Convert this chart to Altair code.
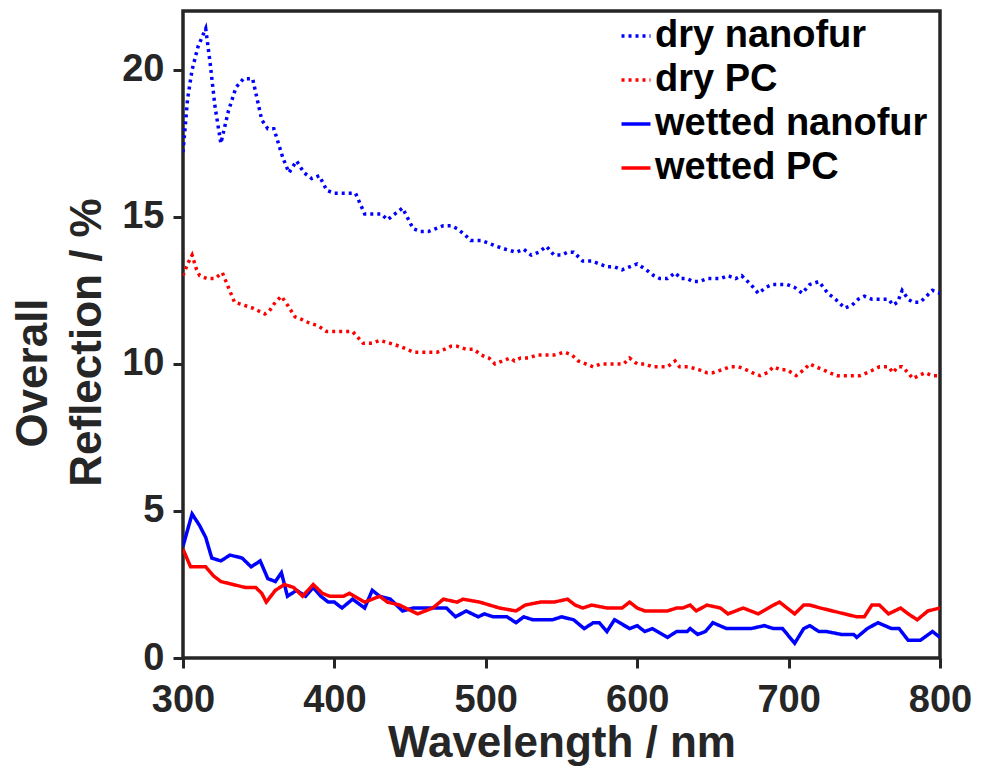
import altair as alt
import pandas as pd

series_names = ["dry nanofur", "dry PC", "wetted nanofur", "wetted PC"]
series_colors = ["#0000FF", "#FF0000", "#0000FF", "#FF0000"]
series_dashes = [[3, 4], [3, 4], [1, 0], [1, 0]]

dry_nanofur_wl = [300, 303, 306, 310, 315, 318, 321, 325, 330, 335, 340, 346, 352, 356, 360, 366, 370, 375, 380, 385,
                  390, 395, 400, 406, 414, 420, 426, 431, 435, 440, 445, 452, 457, 462, 467, 472, 477, 481, 486, 490,
                  497, 502, 507, 513, 520, 525, 530, 535, 540, 545, 550, 554, 558, 564, 570, 575, 580, 585, 590, 595,
                  600, 606, 611, 615, 620, 625, 629, 633, 637, 641, 646, 650, 655, 660, 665, 669, 675, 680, 685, 689,
                  694, 699, 704, 709, 714, 720, 723, 726, 731, 737, 742, 746, 750, 755, 760, 766, 769, 772, 775, 779,
                  782, 787, 791, 795, 800]
dry_nanofur_val = [17.2, 19.0, 20.0, 20.8, 21.4, 20.2, 18.8, 17.5, 18.6, 19.4, 19.7, 19.7, 18.3, 18.0, 18.0, 17.0, 16.5, 16.9, 16.5, 16.3,
                   16.4, 15.9, 15.8, 15.8, 15.8, 15.1, 15.1, 15.1, 14.9, 15.1, 15.3, 14.6, 14.5, 14.5, 14.6, 14.7, 14.7, 14.6, 14.4, 14.2,
                   14.2, 14.1, 14.0, 13.9, 13.8, 13.9, 13.7, 13.8, 14.0, 13.7, 13.7, 13.8, 13.8, 13.5, 13.5, 13.4, 13.3, 13.3, 13.2, 13.3,
                   13.4, 13.2, 13.0, 12.9, 12.9, 13.1, 12.9, 12.9, 12.8, 12.8, 12.9, 12.9, 12.9, 13.0, 12.9, 13.0, 12.7, 12.4, 12.6, 12.7,
                   12.7, 12.7, 12.6, 12.4, 12.7, 12.8, 12.6, 12.4, 12.2, 11.9, 12.0, 12.2, 12.3, 12.2, 12.2, 12.2, 12.0, 12.1, 12.5, 12.2,
                   12.1, 12.1, 12.3, 12.5, 12.4]

dry_pc_wl = [300, 303, 306, 309, 311, 316, 321, 326, 330, 334, 340, 346, 350, 354, 357, 361, 365, 369, 374, 379,
             383, 389, 395, 400, 406, 412, 419, 425, 430, 437, 443, 448, 452, 458, 463, 468, 473, 477, 481, 487,
             492, 497, 502, 506, 511, 516, 519, 523, 528, 534, 539, 545, 552, 557, 561, 566, 571, 576, 582, 586,
             591, 595, 600, 605, 610, 615, 620, 625, 628, 634, 641, 646, 650, 656, 661, 667, 672, 676, 681, 686,
             690, 695, 699, 705, 710, 714, 718, 723, 727, 732, 737, 742, 747, 752, 756, 760, 766, 769, 772, 775,
             779, 782, 786, 790, 795, 800]
dry_pc_val = [13.0, 13.4, 13.7, 13.2, 13.0, 12.9, 12.9, 13.1, 12.6, 12.1, 12.0, 11.9, 11.8, 11.7, 11.8, 12.1, 12.3, 12.0, 11.6, 11.5,
              11.4, 11.3, 11.1, 11.1, 11.1, 11.1, 10.7, 10.7, 10.8, 10.7, 10.6, 10.5, 10.4, 10.4, 10.4, 10.4, 10.5, 10.6, 10.6, 10.5,
              10.5, 10.3, 10.2, 10.0, 10.1, 10.2, 10.1, 10.2, 10.2, 10.3, 10.3, 10.3, 10.4, 10.3, 10.1, 10.0, 9.9, 10.0, 10.0, 10.0,
              10.0, 10.2, 10.0, 10.0, 9.9, 9.9, 9.9, 10.1, 9.9, 9.9, 9.8, 9.7, 9.7, 9.8, 9.9, 9.9, 9.8, 9.7, 9.6, 9.7,
              9.9, 9.8, 9.8, 9.6, 9.8, 10.0, 9.9, 9.8, 9.7, 9.6, 9.6, 9.6, 9.6, 9.7, 9.8, 9.9, 9.9, 9.7, 9.9, 9.9,
              9.7, 9.5, 9.6, 9.7, 9.6, 9.6]

wet_nanofur_wl = [300, 306, 311, 315, 319, 325, 331, 339, 345, 351, 356, 361, 365, 369, 375, 381, 386, 391, 396, 400,
                  405, 412, 420, 425, 430, 437, 445, 452, 461, 474, 480, 487, 495, 499, 505, 514, 520, 525, 531, 538,
                  544, 550, 558, 565, 571, 575, 580, 585, 595, 600, 605, 610, 620, 626, 633, 635, 640, 645, 650, 659,
                  666, 675, 684, 690, 696, 704, 710, 714, 720, 725, 735, 743, 745, 752, 759, 768, 773, 779, 787, 795,
                  800]
wet_nanofur_val = [3.8, 4.9, 4.5, 4.1, 3.4, 3.3, 3.5, 3.4, 3.1, 3.3, 2.7, 2.6, 2.9, 2.1, 2.3, 2.1, 2.4, 2.1, 1.9, 1.9,
                   1.7, 2.0, 1.7, 2.3, 2.1, 2.0, 1.6, 1.7, 1.7, 1.7, 1.4, 1.6, 1.4, 1.5, 1.4, 1.4, 1.2, 1.4, 1.3, 1.3,
                   1.3, 1.4, 1.3, 1.0, 1.2, 1.2, 0.9, 1.3, 1.0, 1.1, 0.9, 1.0, 0.7, 0.9, 0.9, 1.0, 0.8, 0.9, 1.2, 1.0,
                   1.0, 1.0, 1.1, 1.0, 1.0, 0.5, 1.0, 1.1, 0.9, 0.9, 0.8, 0.8, 0.7, 1.0, 1.2, 1.0, 1.0, 0.6, 0.6, 0.9,
                   0.7]

wet_pc_wl = [300, 305, 310, 315, 320, 325, 333, 341, 348, 352, 355, 361, 367, 373, 379, 386, 392, 397, 406, 410,
             420, 430, 435, 443, 455, 465, 472, 481, 485, 496, 509, 520, 526, 536, 545, 554, 559, 564, 570, 580,
             590, 595, 600, 605, 620, 626, 630, 635, 639, 646, 655, 660, 670, 680, 690, 694, 704, 710, 714, 721,
             729, 737, 745, 750, 755, 760, 766, 774, 779, 785, 792, 800]
wet_pc_val = [3.7, 3.1, 3.1, 3.1, 2.8, 2.6, 2.5, 2.4, 2.4, 2.2, 1.9, 2.3, 2.5, 2.4, 2.1, 2.5, 2.2, 2.1, 2.1, 2.2,
              1.9, 2.1, 1.9, 1.8, 1.5, 1.7, 2.0, 1.9, 2.0, 1.9, 1.7, 1.6, 1.8, 1.9, 1.9, 2.0, 1.8, 1.7, 1.8, 1.7,
              1.7, 1.9, 1.7, 1.6, 1.6, 1.7, 1.7, 1.8, 1.6, 1.8, 1.7, 1.5, 1.7, 1.5, 1.8, 1.9, 1.5, 1.8, 1.8, 1.7,
              1.6, 1.5, 1.4, 1.4, 1.8, 1.8, 1.5, 1.7, 1.5, 1.3, 1.6, 1.7]

x_ticks = [300, 400, 500, 600, 700, 800]
y_ticks = [0, 5, 10, 15, 20]
y_title_lines = ["Overall", "Reflection / %"]

frames = []
for name, wl, val in [
    (series_names[0], dry_nanofur_wl, dry_nanofur_val),
    (series_names[1], dry_pc_wl, dry_pc_val),
    (series_names[2], wet_nanofur_wl, wet_nanofur_val),
    (series_names[3], wet_pc_wl, wet_pc_val),
]:
    frames.append(pd.DataFrame({"wavelength": wl, "reflection": val, "series": name}))
df = pd.concat(frames, ignore_index=True)
df["order"] = df["series"].map({n: i for i, n in enumerate(series_names)})

FONT = "Liberation Sans"
INK = "#262626"

legend_kw = dict(title=None, orient="none", legendX=434, legendY=6,
                 symbolType="stroke", symbolSize=840, symbolStrokeWidth=3.5,
                 labelFontSize=38, labelFont=FONT, labelFontWeight="bold",
                 labelColor="#000000", rowPadding=6, labelOffset=0,
                 padding=0, labelLimit=400)

lines = alt.Chart(df).mark_line(strokeWidth=3.5, clip=True).encode(
    x=alt.X("wavelength:Q",
            scale=alt.Scale(domain=[300, 800], nice=False, zero=False),
            axis=alt.Axis(values=x_ticks, title="Wavelength / nm", titlePadding=2,
                          labelPadding=13, labelFlush=False)),
    y=alt.Y("reflection:Q",
            scale=alt.Scale(domain=[0, 22], nice=False),
            axis=alt.Axis(values=y_ticks, title=y_title_lines[1], titlePadding=12,
                          titleY=331, labelPadding=9, labelFlush=False)),
    color=alt.Color("series:N",
                    scale=alt.Scale(domain=series_names, range=series_colors),
                    legend=alt.Legend(**legend_kw)),
    strokeDash=alt.StrokeDash("series:N",
                              scale=alt.Scale(domain=series_names, range=series_dashes),
                              legend=alt.Legend(**legend_kw)),
    order=alt.Order("order:Q"),
    detail="series:N",
)

overall = alt.Chart(pd.DataFrame({"t": [y_title_lines[0]]})).mark_text(
    angle=270, font=FONT, fontSize=44, fontWeight="bold", color=INK,
    align="center", baseline="middle"
).encode(
    x=alt.value(-149), y=alt.value(362), text="t:N"
)

chart = alt.layer(lines, overall).properties(
    width=757, height=647,
    autosize=alt.AutoSizeParams(type="none"),
    padding={"left": 175, "top": 3, "right": 36, "bottom": 108},
).configure_view(
    stroke=INK, strokeWidth=3.5
).configure_axis(
    grid=False, domain=False,
    tickColor=INK, tickWidth=3, tickSize=10,
    labelFont=FONT, labelFontSize=38, labelFontWeight="bold", labelColor=INK,
    titleFont=FONT, titleFontSize=44, titleFontWeight="bold", titleColor=INK,
)

chart.save("out.html", embed_options={"renderer": "svg", "actions": False})
